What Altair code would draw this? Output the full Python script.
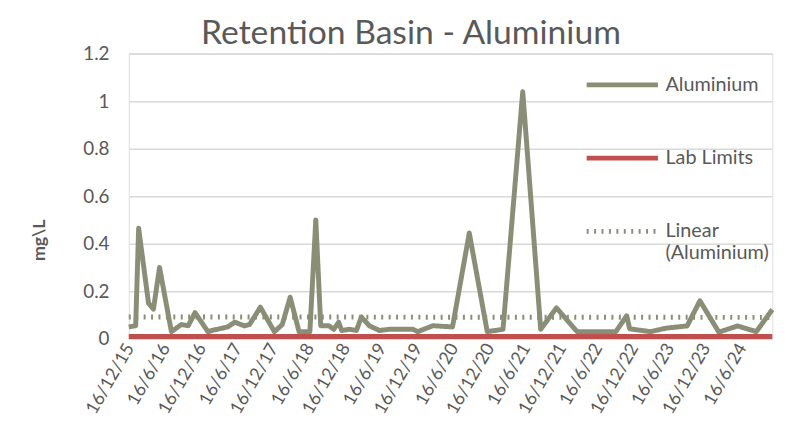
import altair as alt
import pandas as pd

# ---- data ----
al_dates = [
    "2015-12-11", "2016-01-15", "2016-01-30", "2016-03-20", "2016-04-14", "2016-05-15",
    "2016-07-14", "2016-09-02", "2016-10-07", "2016-11-11", "2017-01-15", "2017-02-20",
    "2017-04-26", "2017-05-31", "2017-07-20", "2017-08-14", "2017-10-08", "2017-12-18",
    "2018-01-27", "2018-03-08", "2018-04-22", "2018-06-16", "2018-07-16", "2018-08-10",
    "2018-09-20", "2018-10-15", "2018-11-09", "2018-11-24", "2019-01-03", "2019-02-07",
    "2019-03-04", "2019-04-13", "2019-06-03", "2019-07-23", "2019-09-06", "2019-11-20",
    "2019-12-15", "2020-02-29", "2020-06-08", "2020-09-01", "2020-12-01", "2021-02-19",
    "2021-05-30", "2021-08-29", "2021-11-17", "2022-03-02", "2022-09-14", "2022-11-08",
    "2022-11-23", "2023-03-08", "2023-05-28", "2023-09-10", "2023-11-14", "2024-02-18",
    "2024-05-23", "2024-08-26", "2024-11-15",
]
al_values = [
    0.05, 0.055, 0.465, 0.15, 0.125, 0.30,
    0.03, 0.06, 0.055, 0.11, 0.03, 0.038,
    0.05, 0.07, 0.054, 0.06, 0.133, 0.03,
    0.06, 0.175, 0.03, 0.03, 0.50, 0.055,
    0.055, 0.04, 0.07, 0.035, 0.04, 0.035,
    0.092, 0.055, 0.035, 0.04, 0.04, 0.04,
    0.03, 0.055, 0.05, 0.445, 0.03, 0.04,
    1.04, 0.04, 0.13, 0.03, 0.03, 0.097,
    0.042, 0.03, 0.045, 0.054, 0.16, 0.028,
    0.054, 0.03, 0.123,
]
lab_limit = [0.01, 0.01]
trend_values = [0.092, 0.09]
tick_dates = [
    "2015-12-16", "2016-06-16", "2016-12-16", "2017-06-16", "2017-12-16", "2018-06-16",
    "2018-12-16", "2019-06-16", "2019-12-16", "2020-06-16", "2020-12-16", "2021-06-16",
    "2021-12-16", "2022-06-16", "2022-12-16", "2023-06-16", "2023-12-16", "2024-06-16",
]
y_ticks = [0, 0.2, 0.4, 0.6, 0.8, 1.0, 1.2]
series_names = ["Aluminium", "Lab Limits", "Linear (Aluminium)"]
series_colors = ["#8B8E77", "#C0504D", "#8B8E77"]
series_dash = [[1, 0], [1, 0], [2, 5.5]]
series_width = [5, 5, 2]

FONT = "Lato"
TXT = "#595959"

rows = [{"date": d, "value": v, "series": series_names[0]} for d, v in zip(al_dates, al_values)]
rows += [{"date": d, "value": v, "series": series_names[1]} for d, v in zip([al_dates[0], al_dates[-1]], lab_limit)]
rows += [{"date": d, "value": v, "series": series_names[2]} for d, v in zip([al_dates[0], al_dates[-1]], trend_values)]
df = pd.DataFrame(rows)


def dt(s):
    y, m, d = (int(p) for p in s.split("-"))
    return alt.DateTime(year=y, month=m, date=d, utc=True)


legend = alt.Legend(
    title=None, orient="none", legendX=460, legendY=-7, padding=0,
    symbolType="stroke", symbolSize=5184, labelFontSize=20, labelColor=TXT, labelFont=FONT,
    rowPadding=25, labelOffset=5,
    labelExpr="datum.label == 'Linear (Aluminium)' ? ['Linear', '(Aluminium)'] : datum.label",
)

chart = alt.Chart(df).mark_line(strokeJoin="round").encode(
    x=alt.X(
        "date:T",
        scale=alt.Scale(type="utc", domain=[dt(al_dates[0]), dt(al_dates[-1])], nice=False),
        axis=alt.Axis(
            values=[dt(t) for t in tick_dates], format="%d/%-m/%y", labelAngle=-60,
            title=None, grid=False, domain=False, ticks=False, labelFontSize=18,
            labelColor=TXT, labelFont=FONT, labelPadding=6, labelOverlap=False,
        ),
    ),
    y=alt.Y(
        "value:Q",
        scale=alt.Scale(domain=[0, 1.2], nice=False),
        axis=alt.Axis(
            values=y_ticks, format="~g", title="mg\\L", titleFontSize=18, titleFont=FONT,
            titleColor=TXT, titleFontWeight="bold", titleAngle=270, titleX=-90, titleY=188,
            titleAlign="center", titleBaseline="middle",
            grid=True, gridColor="#D9D9D9", gridWidth=1.6, domain=False, ticks=False,
            labelFontSize=19, labelColor=TXT, labelFont=FONT, labelPadding=20,
        ),
    ),
    color=alt.Color("series:N", scale=alt.Scale(domain=series_names, range=series_colors), legend=legend),
    strokeDash=alt.StrokeDash("series:N", scale=alt.Scale(domain=series_names, range=series_dash), legend=legend),
    strokeWidth=alt.StrokeWidth("series:N", scale=alt.Scale(domain=series_names, range=series_width), legend=legend),
).properties(
    width=650,
    height=288,
    autosize=alt.AutoSizeParams(type="none"),
    padding={"left": 122, "top": 44, "right": 30, "bottom": 90},
    title=alt.Title(
        "Retention Basin - Aluminium", fontSize=34, font=FONT, fontWeight="normal",
        color=TXT, anchor="middle", offset=10, dx=-40, dy=16,
    ),
).configure_view(stroke=None).configure(background="white")

chart.save("out.html", embed_options={"renderer": "svg", "actions": False})
